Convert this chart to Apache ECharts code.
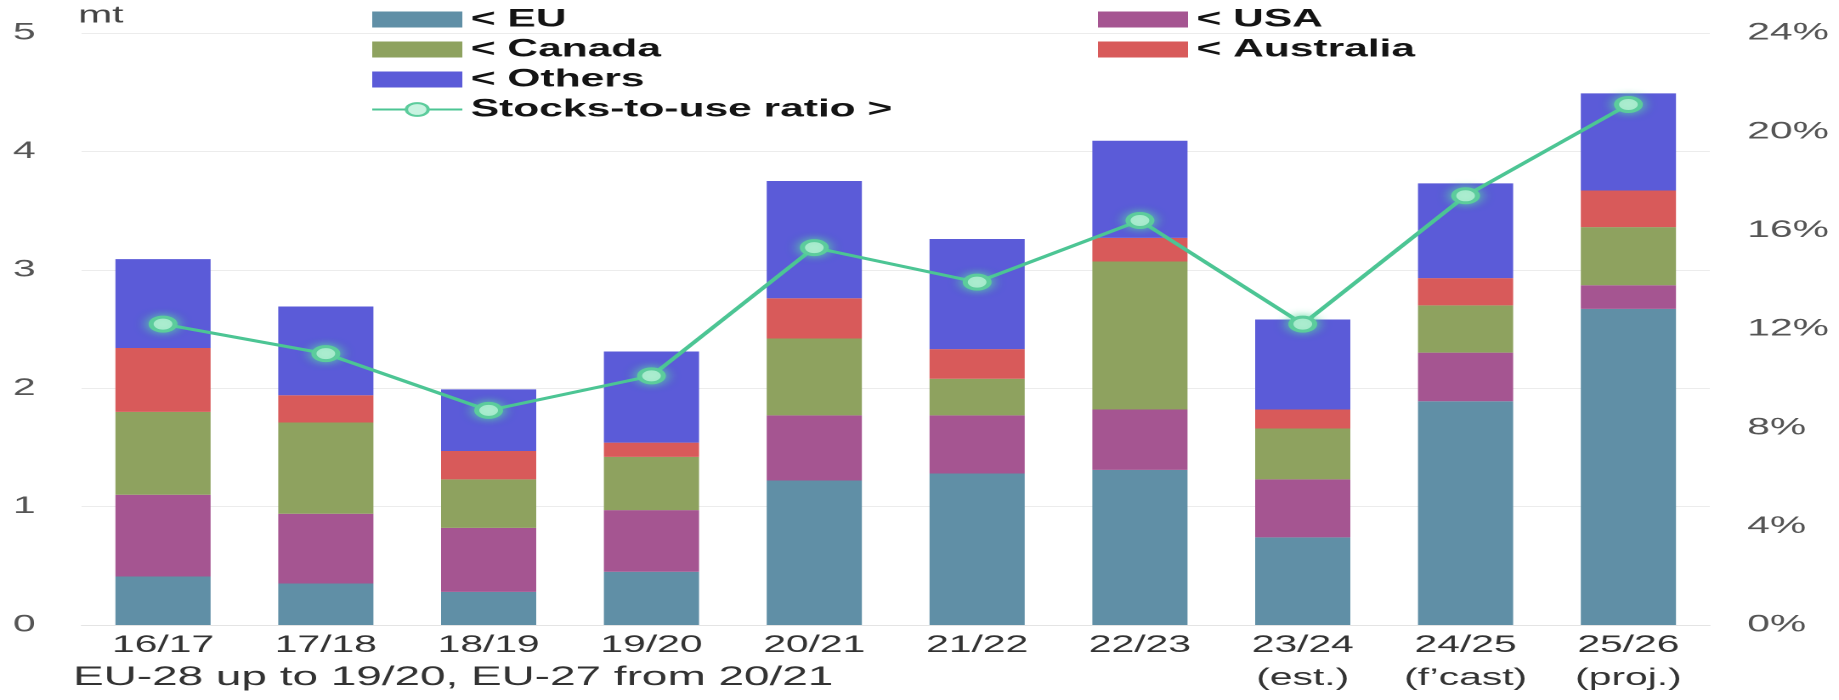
<!DOCTYPE html>
<html>
<head>
<meta charset="utf-8">
<script src="https://cdn.jsdelivr.net/npm/echarts@6/dist/echarts.min.js"></script>
<style>
  html, body { margin: 0; padding: 0; background: #ffffff; overflow: hidden; }
  #wrap { width: 1839px; height: 700px; overflow: hidden; }
  /* the chart is laid out narrow and widened horizontally, giving the stretched look */
  #chart { width: 1082px; height: 700px; transform: scaleX(1.6996); transform-origin: 0 0; }
</style>
</head>
<body>
<div id="wrap"><div id="chart"></div></div>
<script>
// Marketing years
const categories = ['16/17', '17/18', '18/19', '19/20', '20/21', '21/22', '22/23',
  '23/24\n(est.)', '24/25\n(f\u2019cast)', '25/26\n(proj.)'];

// Ending stocks by origin, million tonnes (left axis)
const euStocks        = [0.41, 0.35, 0.28, 0.45, 1.22, 1.28, 1.31, 0.74, 1.89, 2.67];
const usaStocks       = [0.69, 0.59, 0.54, 0.52, 0.55, 0.49, 0.51, 0.49, 0.41, 0.20];
const canadaStocks    = [0.70, 0.77, 0.41, 0.45, 0.65, 0.31, 1.25, 0.43, 0.40, 0.49];
const australiaStocks = [0.54, 0.23, 0.24, 0.12, 0.34, 0.25, 0.20, 0.16, 0.23, 0.31];
const otherStocks     = [0.75, 0.75, 0.52, 0.77, 0.99, 0.93, 0.82, 0.76, 0.80, 0.82];

// Stocks-to-use ratio, % (right axis)
const stocksToUse = [12.2, 11.0, 8.7, 10.1, 15.3, 13.9, 16.4, 12.2, 17.4, 21.1];

// Axis tick settings
const leftTicks  = { min: 0, max: 5, interval: 1 };
const rightTicks = { min: 0, max: 24, interval: 4 };

const FONT = '"Liberation Sans", Arial, Helvetica, sans-serif';

const chart = echarts.init(document.getElementById('chart'), null, { renderer: 'canvas', devicePixelRatio: 2 });

function barSeries(name, data, color) {
  return {
    name: name,
    type: 'bar',
    stack: 'stocks',
    data: data,
    barWidth: 56,
    itemStyle: { color: color },
    emphasis: { disabled: true }
  };
}

const legendText = { fontFamily: FONT, fontSize: 25, fontWeight: 'bold', color: '#141414', lineHeight: 25 };

chart.setOption({
  animation: false,
  backgroundColor: '#ffffff',
  textStyle: { fontFamily: FONT },
  grid: { left: 48, right: 76, top: 33, bottom: 75, containLabel: false, outerBoundsMode: 'none' },
  legend: [
    {
      orient: 'vertical', left: 213, top: 2, itemWidth: 53, itemHeight: 16, itemGap: 5,
      textStyle: legendText,
      data: [
        { name: '< EU', icon: 'rect' },
        { name: '< Canada', icon: 'rect' },
        { name: '< Others', icon: 'rect' },
        { name: 'Stocks-to-use ratio >' }
      ]
    },
    {
      orient: 'vertical', left: 641, top: 2, itemWidth: 53, itemHeight: 16, itemGap: 5,
      textStyle: legendText,
      data: [
        { name: '< USA', icon: 'rect' },
        { name: '< Australia', icon: 'rect' }
      ]
    }
  ],
  xAxis: {
    type: 'category',
    data: categories,
    axisLine: { show: true, lineStyle: { color: '#e4e4e4', width: 1 } },
    axisTick: { show: false },
    axisLabel: { interval: 0, fontFamily: FONT, fontSize: 24, lineHeight: 33, margin: 4, color: '#333333' }
  },
  yAxis: [
    {
      type: 'value', min: leftTicks.min, max: leftTicks.max, interval: leftTicks.interval,
      axisLine: { show: false }, axisTick: { show: false },
      splitLine: { show: true, lineStyle: { color: '#ececec', width: 1 } },
      axisLabel: { fontFamily: FONT, fontSize: 24, color: '#555555', margin: 27 }
    },
    {
      type: 'value', min: rightTicks.min, max: rightTicks.max, interval: rightTicks.interval,
      position: 'right',
      axisLine: { show: false }, axisTick: { show: false },
      splitLine: { show: false },
      axisLabel: { fontFamily: FONT, fontSize: 24, color: '#555555', margin: 22, formatter: '{value}%' }
    }
  ],
  graphic: [
    {
      type: 'text', left: 46, top: 4,
      style: { text: 'mt', fontFamily: FONT, fontSize: 24, fill: '#444444' }
    },
    {
      type: 'text', left: 43, top: 664,
      style: { text: 'EU-28 up to 19/20, EU-27 from 20/21', fontFamily: FONT, fontSize: 27, fill: '#333333' }
    }
  ],
  series: [
    barSeries('< EU', euStocks, '#608fa6'),
    barSeries('< USA', usaStocks, '#a55591'),
    barSeries('< Canada', canadaStocks, '#8ea25f'),
    barSeries('< Australia', australiaStocks, '#d85a5a'),
    barSeries('< Others', otherStocks, '#5b5bd8'),
    {
      name: 'Stocks-to-use ratio >',
      type: 'line',
      yAxisIndex: 1,
      data: stocksToUse,
      z: 10,
      symbol: 'circle',
      symbolSize: 14,
      lineStyle: { color: '#4cc594', width: 3 },
      itemStyle: {
        color: '#c9f3e1', borderColor: '#5ccc9c', borderWidth: 3,
        shadowBlur: 8, shadowColor: 'rgba(90,220,160,0.9)'
      },
      emphasis: { disabled: true }
    }
  ]
});
</script>
</body>
</html>
